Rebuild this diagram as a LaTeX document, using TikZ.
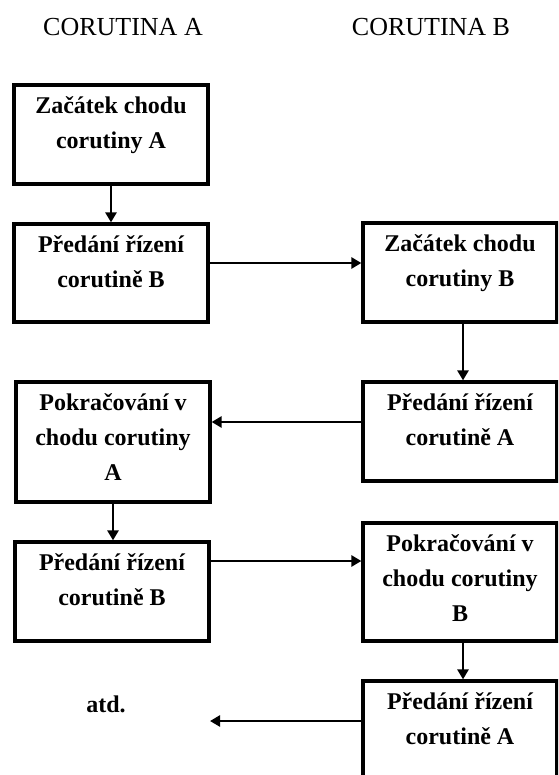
\documentclass[tikz,border=0pt]{standalone}
\usepackage{fontspec}
\setmainfont{Liberation Serif}
\usetikzlibrary{arrows.meta}
\newcommand{\blok}[2]{\parbox[c][#1][t]{174pt}{\centering #2}}
\tikzset{
    krok/.style={draw, line width=3.2pt, inner xsep=10pt, inner ysep=12pt,
        font=\bfseries\fontsize{24}{35}\selectfont},
    sipka/.style={line width=2.8pt, -{Triangle[length=10pt,width=11pt]}},
    nadpis/.style={anchor=base, font=\fontsize{26}{30}\selectfont}
}
\begin{document}
\begin{tikzpicture}[x=1pt,y=-1pt]
                \clip (0,0) rectangle (558,775);
                \node[nadpis] (tA) at (123,36) {CORUTINA A};
                \node[nadpis] (tB) at (431,36) {CORUTINA B};
                \node[krok] (A1) at (111,134.5) {\blok{75pt}{Začátek chodu\\corutiny A}};
                \node[krok] (A2) at (111,273) {\blok{74pt}{Předání řízení\\corutině B}};
                \node[krok] (B1) at (460,272.5) {\blok{75pt}{Začátek chodu\\corutiny B}};
                \node[krok] (B2) at (460,431.5) {\blok{75pt}{Předání řízení\\corutině A}};
                \node[krok] (A3) at (113,442) {\blok{96pt}{Pokračování v\\chodu corutiny\\A}};
                \node[krok] (A4) at (112,591.5) {\blok{75pt}{Předání řízení\\corutině B}};
                \node[krok] (B3) at (460,582) {\blok{94pt}{Pokračování v\\chodu corutiny\\B}};
                \node[krok] (B4) at (460,730.5) {\blok{75pt}{Předání řízení\\corutině A}};
                \node[anchor=base, font=\bfseries\fontsize{24}{30}\selectfont] (atd) at (106,712) {atd.};
                \coordinate (dal) at (210,721);
                \draw[sipka] (A1.south) -- (A1.south |- A2.north);
                \draw[sipka] ([yshift=10pt]A2.east) -- ([yshift=10pt]A2.east -| B1.west);
                \draw[sipka] ([xshift=3pt]B1.south) -- ([xshift=3pt]B1.south |- B2.north);
                \draw[sipka] ([yshift=9.5pt]B2.west) -- ([yshift=9.5pt]B2.west -| A3.east);
                \draw[sipka] (A3.south) -- (A3.south |- A4.north);
                \draw[sipka] ([yshift=30.5pt]A4.east) -- ([yshift=30.5pt]A4.east -| B3.west);
                \draw[sipka] ([xshift=3pt]B3.south) -- ([xshift=3pt]B3.south |- B4.north);
                \draw[sipka] ([yshift=9.5pt]B4.west) -- (dal);
            \end{tikzpicture}
\end{document}
